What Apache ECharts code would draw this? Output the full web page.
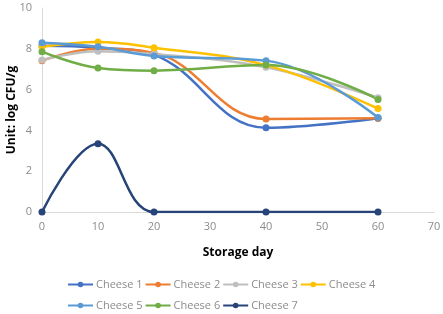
<!DOCTYPE html>
<html><head><meta charset="utf-8">
<script src="https://cdn.jsdelivr.net/npm/echarts@6/dist/echarts.min.js"></script>
<style>html,body{margin:0;padding:0;background:#fff}#c{width:443px;height:314px}</style>
</head><body><div id="c"></div>
<script>
var days = [0, 10, 20, 40, 60];
var names = ['Cheese 1','Cheese 2','Cheese 3','Cheese 4','Cheese 5','Cheese 6','Cheese 7'];
var cheese1 = [8.15, 8.05, 7.7, 4.13, 4.6];
var cheese2 = [7.42, 8.0, 7.8, 4.56, 4.6];
var cheese3 = [7.45, 7.88, 7.75, 7.1, 5.6];
var cheese4 = [8.1, 8.33, 8.05, 7.2, 5.07];
var cheese5 = [8.3, 8.1, 7.65, 7.42, 4.63];
var cheese6 = [7.86, 7.06, 6.93, 7.2, 5.52];
var cheese7 = [0, 3.35, 0, 0, 0];
var colors = ['#4472C4','#ED7D31','#BFBFBF','#FFC000','#5B9BD5','#70AD47','#264478'];
var values = [cheese1,cheese2,cheese3,cheese4,cheese5,cheese6,cheese7];
var font = '"Open Sans", "Noto Sans", sans-serif';
var series = names.map(function(n,i){
  return {name:n,type:'line',smooth:0.4,clip:true,symbol:'circle',symbolSize:7,
    data: days.map(function(d,j){return [d, values[i][j]];}),
    lineStyle:{width:2.5,color:colors[i]},itemStyle:{color:colors[i]}};
});
var chart = echarts.init(document.getElementById('c'));
chart.setOption({
  animation:false,
  color:colors,
  grid:{left:42,right:9,top:8,bottom:102,containLabel:false,outerBoundsMode:'none'},
  xAxis:{type:'value',min:0,max:70,interval:10,
    name:'Storage day',nameLocation:'middle',nameGap:35,nameMoveOverlap:false,
    nameTextStyle:{fontWeight:'bold',fontSize:12,color:'#000',fontFamily:font},
    axisLine:{lineStyle:{color:'#d9d9d9'}},axisTick:{show:false},splitLine:{show:false},
    axisLabel:{color:'#8c8c8c',fontSize:11,fontFamily:font,margin:9}},
  yAxis:{type:'value',min:0,max:10,interval:2,
    name:'Unit: log CFU/g',nameLocation:'middle',nameGap:24,nameMoveOverlap:false,
    nameTextStyle:{fontWeight:'bold',fontSize:12,color:'#000',fontFamily:font},
    axisLine:{show:true,lineStyle:{color:'#d9d9d9'}},axisTick:{show:false},splitLine:{show:false},
    axisLabel:{color:'#8c8c8c',fontSize:11,fontFamily:font,margin:10}},
  legend:{data:names,left:67,top:275,width:312,padding:0,itemGap:2,itemWidth:25,itemHeight:7,
    textStyle:{color:'#8c8c8c',fontSize:11,fontFamily:font,lineHeight:19,padding:[0,0,0,-2]}},
  series:series
});
</script></body></html>
